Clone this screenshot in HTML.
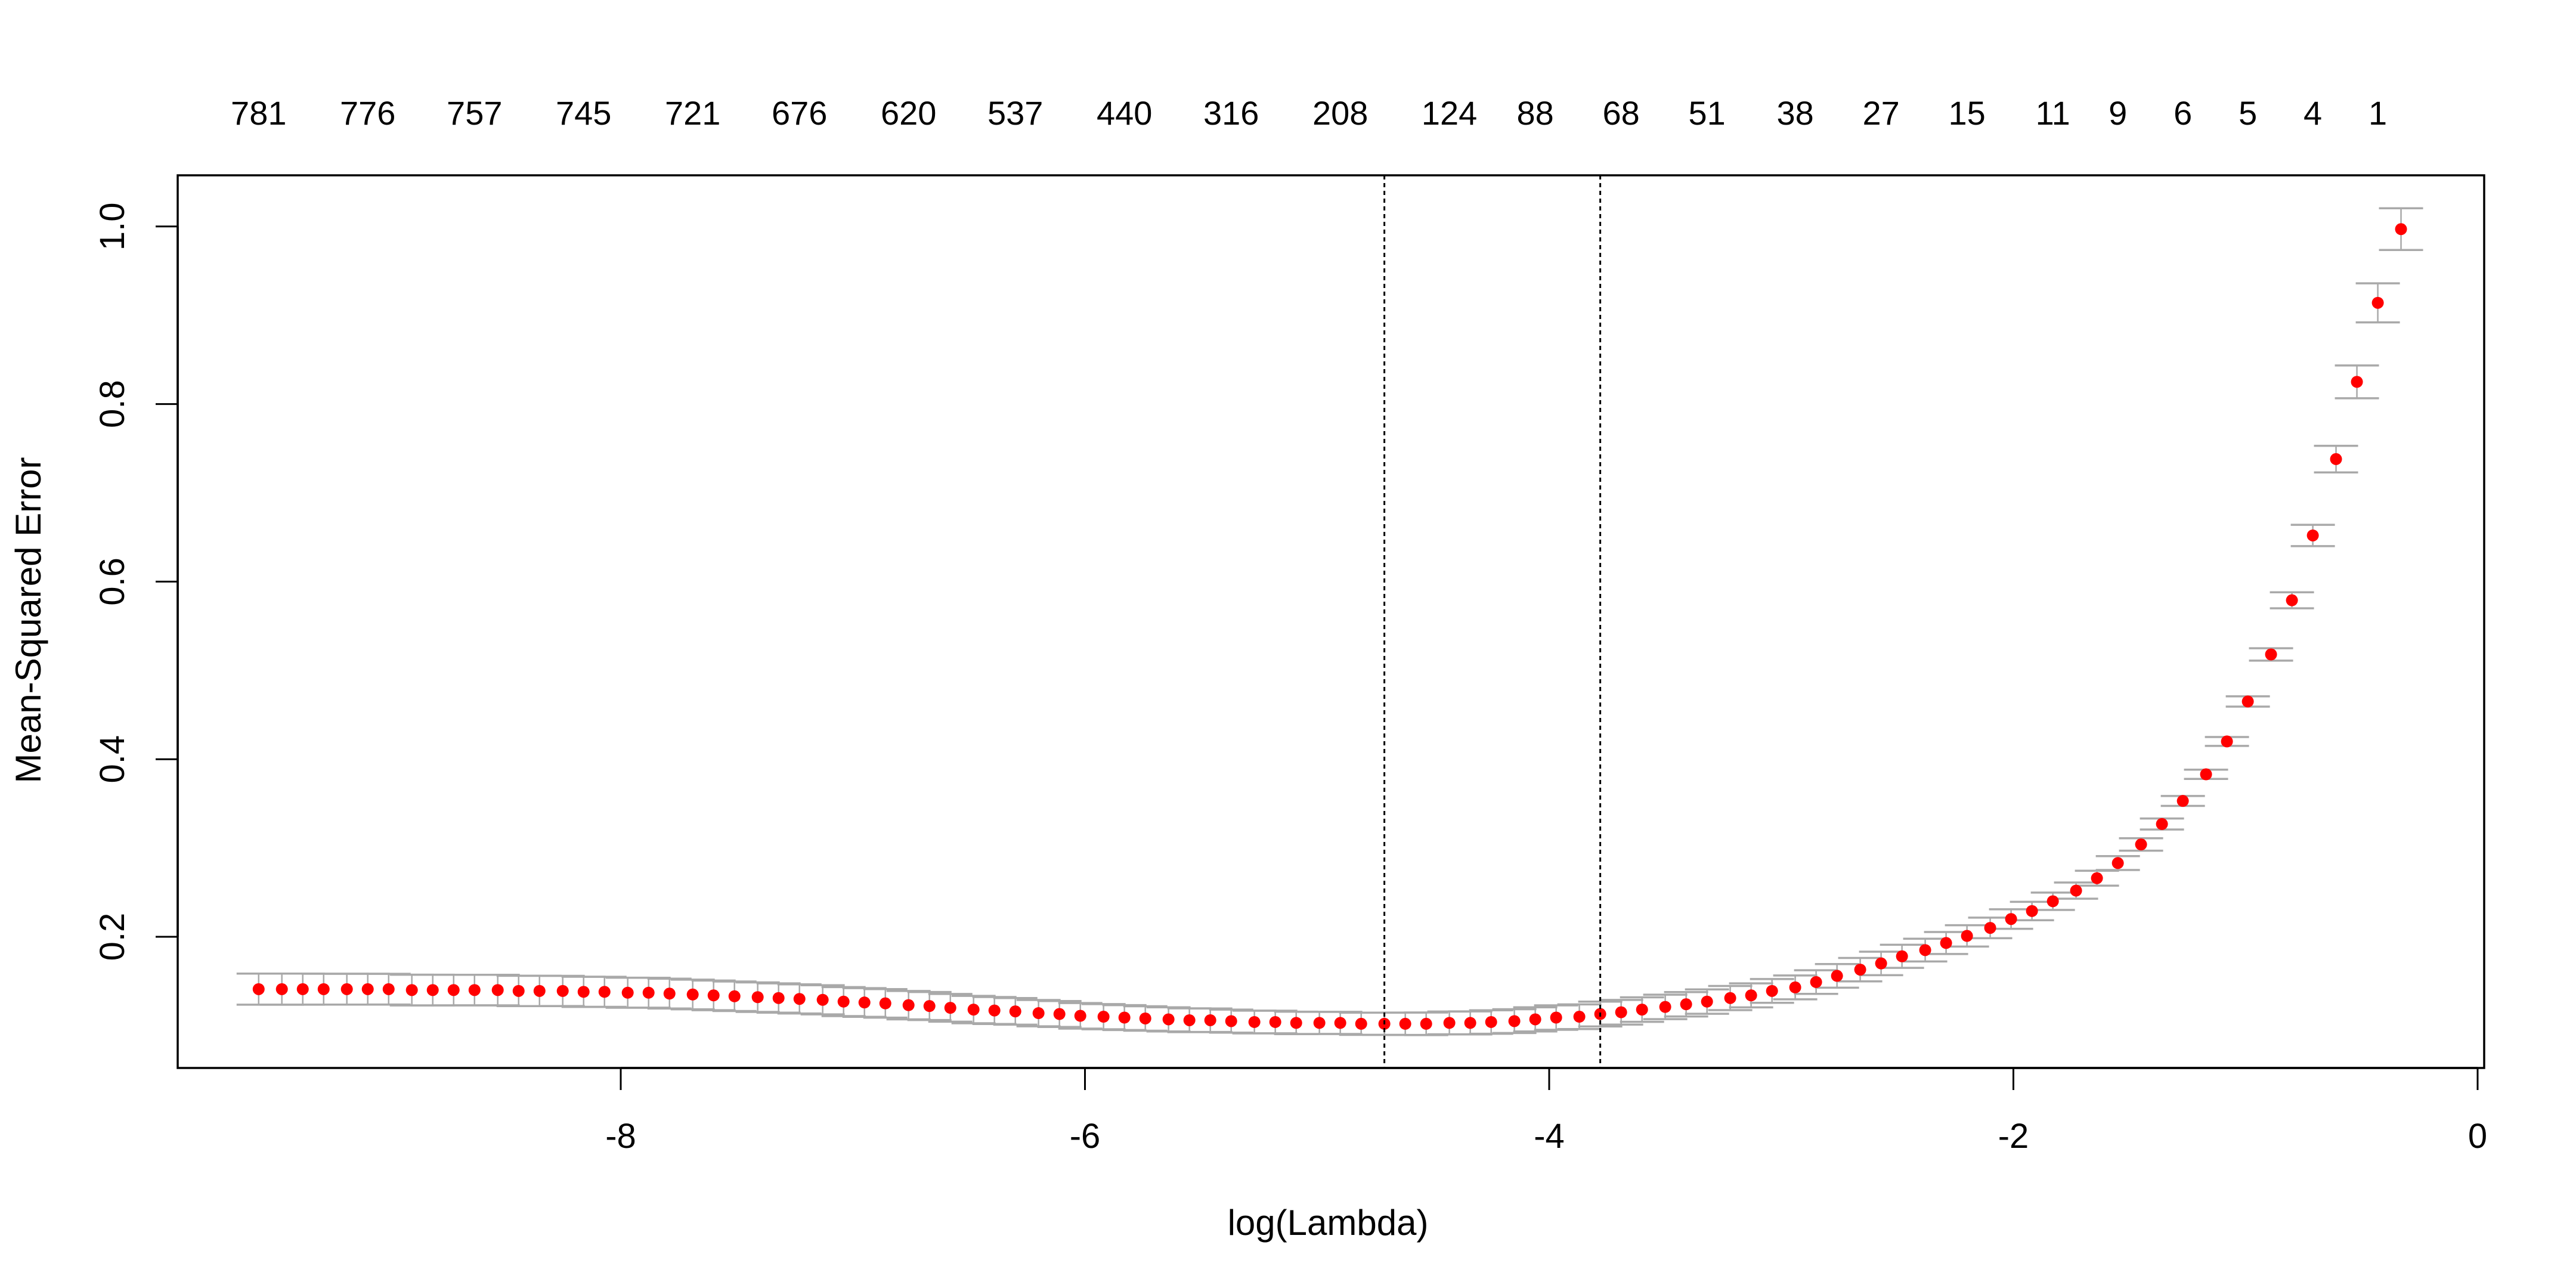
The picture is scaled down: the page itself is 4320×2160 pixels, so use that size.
<!DOCTYPE html>
<html><head><meta charset="utf-8"><style>
html,body{margin:0;padding:0;background:#fff;}
svg{display:block;}
text{font-family:"Liberation Sans",Arial,sans-serif;fill:#000;}
</style></head>
<body>
<svg id="chart" width="4320" height="2160" viewBox="0 0 4320 2160" xmlns="http://www.w3.org/2000/svg">
<rect x="0" y="0" width="4320" height="2160" fill="#fff"/>
<g id="bars"></g>
<g id="pts"></g>
<g id="vlines"></g>
<g id="axes"></g>
<text x="2227" y="2071" font-size="60" text-anchor="middle">log(Lambda)</text>
<text x="0" y="0" font-size="60" text-anchor="middle" transform="translate(68,1040) rotate(-90)">Mean-Squared Error</text>
</svg>
<script>
const logLambda = [-9.56,-9.46,-9.37,-9.28,-9.18,-9.09,-9.00,-8.90,-8.81,-8.72,-8.63,-8.53,-8.44,-8.35,-8.25,-8.16,-8.07,-7.97,-7.88,-7.79,-7.69,-7.60,-7.51,-7.41,-7.32,-7.23,-7.13,-7.04,-6.95,-6.86,-6.76,-6.67,-6.58,-6.48,-6.39,-6.30,-6.20,-6.11,-6.02,-5.92,-5.83,-5.74,-5.64,-5.55,-5.46,-5.37,-5.27,-5.18,-5.09,-4.99,-4.90,-4.81,-4.71,-4.62,-4.53,-4.43,-4.34,-4.25,-4.15,-4.06,-3.97,-3.87,-3.78,-3.69,-3.60,-3.50,-3.41,-3.32,-3.22,-3.13,-3.04,-2.94,-2.85,-2.76,-2.66,-2.57,-2.48,-2.38,-2.29,-2.20,-2.10,-2.01,-1.92,-1.83,-1.73,-1.64,-1.55,-1.45,-1.36,-1.27,-1.17,-1.08,-0.99,-0.89,-0.80,-0.71,-0.61,-0.52,-0.43,-0.33];
const mse = [0.141,0.141,0.141,0.141,0.141,0.141,0.141,0.140,0.140,0.140,0.140,0.140,0.139,0.139,0.139,0.138,0.138,0.137,0.137,0.136,0.135,0.134,0.133,0.132,0.131,0.130,0.129,0.127,0.126,0.125,0.123,0.122,0.120,0.118,0.117,0.116,0.114,0.113,0.111,0.110,0.109,0.108,0.107,0.106,0.106,0.105,0.104,0.104,0.103,0.103,0.103,0.102,0.102,0.102,0.102,0.103,0.103,0.104,0.105,0.107,0.109,0.110,0.113,0.115,0.118,0.121,0.124,0.127,0.131,0.134,0.139,0.143,0.149,0.156,0.163,0.170,0.178,0.185,0.193,0.201,0.210,0.220,0.229,0.240,0.252,0.266,0.283,0.304,0.327,0.353,0.383,0.420,0.465,0.518,0.579,0.652,0.738,0.825,0.914,0.997];
const mseSE = [0.0175,0.0175,0.0175,0.0174,0.0174,0.0174,0.0173,0.0173,0.0173,0.0172,0.0172,0.0172,0.0171,0.0171,0.0170,0.0170,0.0169,0.0169,0.0168,0.0168,0.0167,0.0167,0.0166,0.0166,0.0165,0.0164,0.0164,0.0163,0.0162,0.0161,0.0160,0.0158,0.0156,0.0154,0.0152,0.0150,0.0148,0.0146,0.0144,0.0142,0.0140,0.0138,0.0136,0.0134,0.0132,0.0130,0.0128,0.0127,0.0126,0.0125,0.0125,0.0125,0.0125,0.0126,0.0127,0.0128,0.0130,0.0132,0.0134,0.0136,0.0138,0.0139,0.0140,0.0139,0.0138,0.0138,0.0137,0.0137,0.0136,0.0135,0.0134,0.0134,0.0133,0.0133,0.0132,0.0132,0.0130,0.0128,0.0124,0.0120,0.0116,0.0110,0.0104,0.0098,0.0091,0.0084,0.0078,0.0070,0.0062,0.0056,0.0052,0.0050,0.0058,0.0070,0.0090,0.0120,0.0150,0.0185,0.0220,0.0235];
const nzeroLabels = ["781","776","757","745","721","676","620","537","440","316","208","124","88","68","51","38","27","15","11","9","6","5","4","1"];
const nzeroIndex = [0,5,10,15,20,25,30,35,40,45,50,55,59,63,67,71,75,79,83,86,89,92,95,98];
const xTicks = [-8,-6,-4,-2,0];
const yTicks = [0.2,0.4,0.6,0.8,1.0];
const yTickLabels = ["0.2","0.4","0.6","0.8","1.0"];
const lambdaMin = -4.71;
const lambda1se = -3.78;

const NS="http://www.w3.org/2000/svg";
const PL=298, PR=4166, PT=294, PB=1791;
const X0=4155, XU=389.25;
const xs = v => X0 + v*XU;
const ys = v => 1571 - (v-0.2)*1489;
function mk(tag, attrs, parent){const e=document.createElementNS(NS,tag);for(const k in attrs)e.setAttribute(k,attrs[k]);parent.appendChild(e);return e;}
const gB=document.getElementById('bars'), gP=document.getElementById('pts'), gV=document.getElementById('vlines'), gA=document.getElementById('axes');

for(let i=0;i<mse.length;i++){
  const x=xs(logLambda[i]), yu=ys(mse[i]+mseSE[i]), yl=ys(mse[i]-mseSE[i]);
  const g=mk('g',{},gB);
  
  
  mk('line',{x1:x,x2:x,y1:yu,y2:yl,stroke:'#a9a9a9','stroke-width':2.5},g);
  mk('line',{x1:x-37,x2:x+37,y1:yu,y2:yu,stroke:'#a9a9a9','stroke-width':3.5},g);
  mk('line',{x1:x-37,x2:x+37,y1:yl,y2:yl,stroke:'#a9a9a9','stroke-width':3.5},g);
  const c=mk('circle',{cx:x,cy:ys(mse[i]),r:10,fill:'#ff0000'},gP);
  
  
}
[lambdaMin,lambda1se].forEach(v=>{
  const l=mk('line',{x1:xs(v),x2:xs(v),y1:PT,y2:PB,stroke:'#000','stroke-width':3,'stroke-dasharray':'7 6'},gV);
  
  
});
const box=mk('rect',{x:PL,y:PT,width:PR-PL,height:PB-PT,fill:'none',stroke:'#000','stroke-width':3.5},gA);


mk('line',{x1:xs(xTicks[0]),x2:xs(xTicks[xTicks.length-1]),y1:PB,y2:PB,stroke:'#000','stroke-width':3.5},gA);
xTicks.forEach(t=>{
  mk('line',{x1:xs(t),x2:xs(t),y1:PB,y2:PB+37,stroke:'#000','stroke-width':3},gA);
  const tx=mk('text',{x:xs(t),y:1925,'font-size':58,'text-anchor':'middle'},gA);
  tx.textContent=String(t);
  
  
});
mk('line',{x1:PL,x2:PL,y1:ys(yTicks[0]),y2:ys(yTicks[yTicks.length-1]),stroke:'#000','stroke-width':3.5},gA);
yTicks.forEach((t,i)=>{
  mk('line',{x1:PL-37,x2:PL,y1:ys(t),y2:ys(t),stroke:'#000','stroke-width':3},gA);
  const tx=mk('text',{x:0,y:0,'font-size':58,'text-anchor':'middle',transform:`translate(208,${ys(t)}) rotate(-90)`},gA);
  tx.textContent=yTickLabels[i];
  
  
});
nzeroLabels.forEach((lab,i)=>{
  const tx=mk('text',{x:xs(logLambda[nzeroIndex[i]]),y:209,'font-size':56,'text-anchor':'middle'},gA);
  tx.textContent=lab;
  
  
});
</script>
</body></html>
